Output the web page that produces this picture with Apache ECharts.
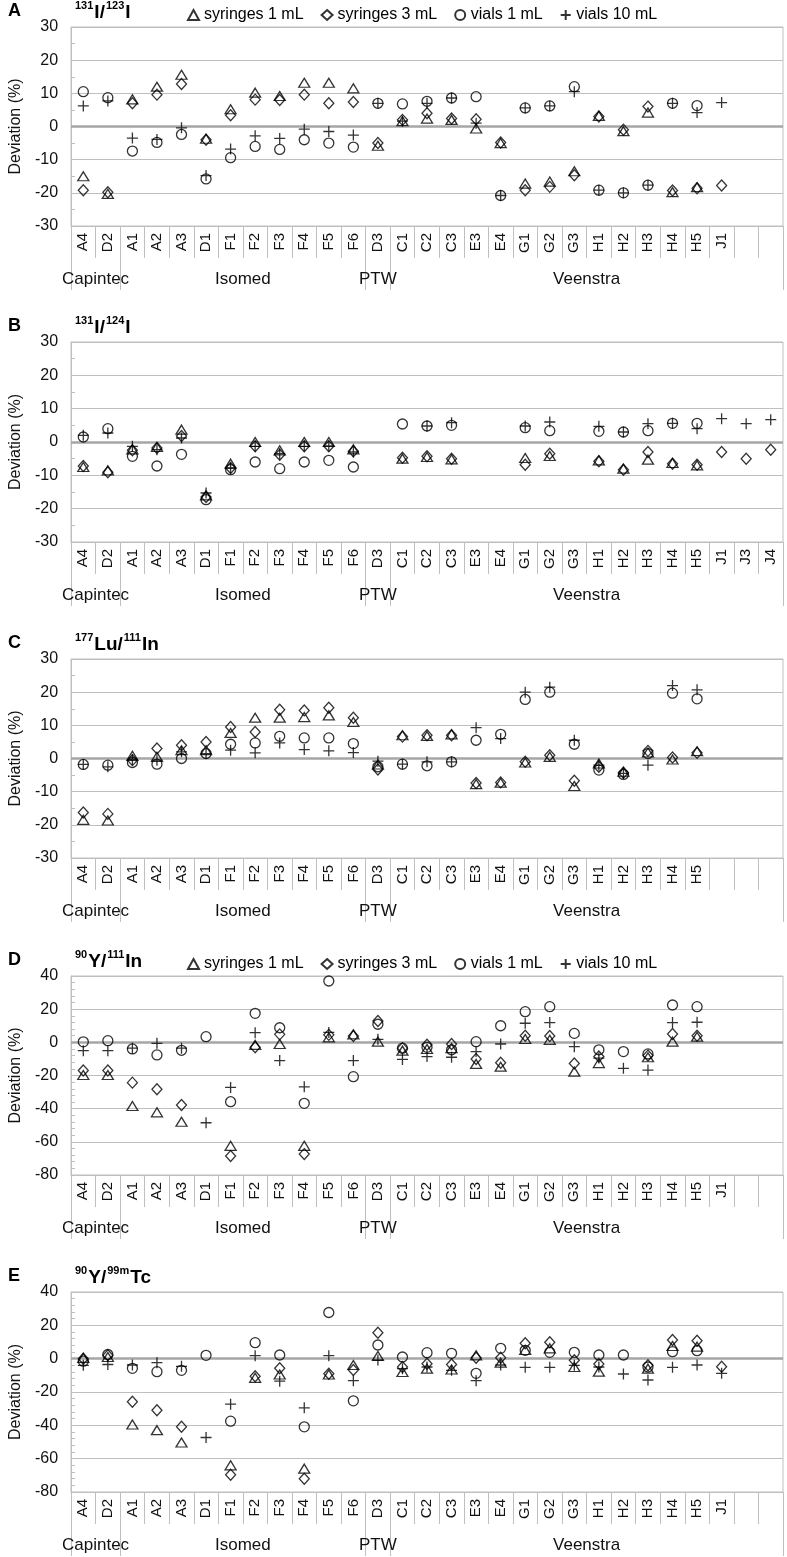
<!DOCTYPE html>
<html><head><meta charset="utf-8">
<script src="https://cdn.jsdelivr.net/npm/echarts@6/dist/echarts.min.js"></script>
<style>html,body{margin:0;padding:0;background:#fff}#c{width:787px;height:1557px}</style>
</head><body><div id="c"></div>
<script>
// ---------- categories ----------
const catsA = ['A4','D2','A1','A2','A3','D1','F1','F2','F3','F4','F5','F6','D3','C1','C2','C3','E3','E4','G1','G2','G3','H1','H2','H3','H4','H5','J1',' ','  '];
const catsB = ['A4','D2','A1','A2','A3','D1','F1','F2','F3','F4','F5','F6','D3','C1','C2','C3','E3','E4','G1','G2','G3','H1','H2','H3','H4','H5','J1','J3','J4'];
const catsC = ['A4','D2','A1','A2','A3','D1','F1','F2','F3','F4','F5','F6','D3','C1','C2','C3','E3','E4','G1','G2','G3','H1','H2','H3','H4','H5',' ','  ','   '];
const catsD = ['A4','D2','A1','A2','A3','D1','F1','F2','F3','F4','F5','F6','D3','C1','C2','C3','E3','E4','G1','G2','G3','H1','H2','H3','H4','H5','J1',' ','  '];
const catsE = ['A4','D2','A1','A2','A3','D1','F1','F2','F3','F4','F5','F6','D3','C1','C2','C3','E3','E4','G1','G2','G3','H1','H2','H3','H4','H5','J1',' ','  '];
const groupNames = ['Capintec','Isomed','PTW','Veenstra'];
const groupSizes = [2, 10, 1, 16];
const seriesNames = ['syringes 1 mL','syringes 3 mL','vials 1 mL','vials 10 mL'];
const panelLetters = ['A','B','C','D','E'];
const isotopes = [['131','I','123','I'],['131','I','124','I'],['177','Lu','111','In'],['90','Y','111','In'],['90','Y','99m','Tc']];
const yTicksSmall = [-30, 30, 10];
const yTicksLarge = [-80, 40, 20];

// ---------- values (deviation %) ----------
const syr1A  = [-15,-20.3,8.2,12,15.6,-3.7,5.2,10.2,9.2,13.2,13.2,11.5,-5.8,1.6,2.4,2.0,-0.6,-5.0,-17.2,-16.6,-13.5,3.2,-1.4,4.2,-19.8,-18.3,null,null,null];
const syr3A  = [-19.2,-19.8,7.0,9.6,12.8,-4.0,3.4,8.1,8.0,9.6,7.0,7.4,-5.0,2.0,4.0,2.4,2.2,-4.8,-19.2,-18.2,-14.7,3.0,-1.0,6.0,-19.3,-18.6,-17.8,null,null];
const vial1A = [10.5,8.7,-7.4,-4.8,-2.4,-15.8,-9.4,-6.0,-6.9,-4.0,-5.0,-6.2,7.0,6.8,7.6,8.6,9.0,-20.8,5.6,6.2,12.0,-19.2,-20.0,-17.7,7.0,6.3,null,null,null];
const vial10A= [6.2,7.7,-3.5,-3.9,-0.4,-14.8,-6.8,-2.8,-3.6,-0.8,-1.5,-2.6,7.0,1.6,7.0,8.6,1.0,-20.8,5.6,6.2,10.5,-19.2,-20.0,-17.7,7.0,4.2,7.2,null,null];

const syr1B  = [-7.5,-8.5,-2.2,-1.5,3.7,-16,-6.5,0.0,-2.5,0.0,0.0,-2.2,null,-5.0,-4.5,-5.2,null,null,-4.8,-4.2,null,-5.5,-8.0,-5.3,-6.3,-7.0,null,null,null];
const syr3B  = [-7.2,-9.1,-2.5,-1.8,1.8,-16.5,-7.8,-1.3,-3.8,-1.3,-1.3,-2.8,null,-4.7,-4.3,-5.0,null,null,-6.8,-3.5,null,-5.8,-8.3,-3.0,-6.5,-6.8,-3.0,-5.0,-2.3];
const vial1B = [1.5,4.0,-4.3,-7.2,-3.7,-17.3,-8.3,-6.0,-8.0,-6.0,-5.5,-7.5,null,5.4,4.8,5.0,null,null,4.3,3.4,null,3.2,3.0,3.4,5.6,5.6,null,null,null];
const vial10B= [2.0,2.7,-1.3,-2.3,1.2,-15.3,-7.8,-1.3,-3.5,-1.3,-1.2,-3.0,null,null,4.8,5.8,null,null,4.8,6.0,null,4.7,3.0,5.5,5.6,4.0,7.0,5.5,6.7];

const syr1C  = [-18.5,-18.7,0.8,0.5,2.5,2.5,7.7,12.3,12.3,12.5,13.0,11.0,-1.8,7.0,6.8,7.3,-7.7,-7.3,-1.2,0.5,-8.3,-1.5,-4.0,1.8,-0.3,2.2,null,null,null];
const syr3C  = [-16.3,-16.7,-0.5,3.0,4.0,5.0,9.5,8.0,14.7,14.5,15.3,12.3,-3.3,6.6,7.0,7.0,-7.4,-7.2,-1.0,1.0,-6.7,-2.5,-4.3,2.3,0.3,1.7,null,null,null];
const vial1C = [-1.8,-2.0,-1.2,-1.7,0.0,1.5,4.3,4.7,6.7,6.2,6.2,4.5,-2.5,-1.7,-2.2,-1.0,5.5,7.3,17.8,20.0,4.3,-3.5,-4.8,1.5,19.7,18.0,null,null,null];
const vial10C= [-1.8,-2.5,-0.3,-0.5,2.0,1.5,2.5,1.7,4.7,2.7,2.3,1.8,-0.8,-1.7,-1.0,-1.0,9.3,6.0,20.0,21.5,5.5,-2.0,-4.5,-2.0,22.0,20.7,null,null,null];

const syr1D  = [-19.7,-19.7,-38.4,-42.2,-47.9,null,-62.4,-1.5,-1.0,-62.4,3.0,4.8,0.4,-5.0,-4.0,-3.5,-13.0,-14.7,2.0,1.5,-17.7,-12.5,null,-9.0,0.4,3.4,null,null,null];
const syr3D  = [-17,-17,-24.3,-28.3,-37.8,null,-68.6,-3.0,4.8,-67.4,4.5,3.8,12.9,-3.5,-1.5,-1.0,-10,-12.3,4.0,3.8,-12.7,-8.5,null,-8.0,5.0,4.0,null,null,null];
const vial1D = [0.3,1.0,-4.0,-7.6,-4.8,3.4,-35.8,17.5,8.8,-36.8,37.0,-20.7,10.9,-3.5,-3.0,-4.5,0.4,10.0,18.5,21.5,5.4,-4.5,-5.6,-7.0,22.5,21.5,null,null,null];
const vial10D= [-5.0,-5.0,-3.5,-0.6,-3.5,-48.5,-27.2,5.8,-11.0,-26.8,6.0,-11.0,1.8,-10.3,-8.6,-9.0,-5.6,-1.0,11.5,11.9,-2.6,-9.5,-15.7,-16.7,11.9,12.1,null,null,null];

const syr1E  = [0.5,1.0,-39.5,-42.9,-50.3,null,-64.0,-11.5,-9.5,-66.0,-9.5,-3.8,1.6,-8.0,-6.0,-6.5,2.0,-2.4,5.2,6.2,-5.0,-7.8,null,-6.0,7.6,7.2,null,null,null];
const syr3E  = [0.0,2.0,-25.9,-30.9,-40.9,null,-69.6,-10.5,-5.8,-72.0,-9.0,-6.8,15.6,-5.0,-3.0,-3.5,0.5,0.6,9.2,9.8,-1.0,-3.2,null,-4.0,11.2,10.8,-4.8,null,null];
const vial1E = [-1.5,2.5,-5.8,-7.8,-7.0,2.0,-37.5,9.6,2.2,-40.9,27.7,-25.3,8.2,1.0,3.6,3.2,-8.8,6.2,5.0,3.8,3.8,2.2,2.2,-5.0,4.2,4.8,null,null,null];
const vial10E= [-4.0,-3.5,-3.8,-2.4,-4.6,-47.3,-27.3,1.8,-13.5,-29.5,1.8,-13.2,-0.8,-6.0,-5.0,-7.0,-13.2,-3.8,-5.2,-5.2,-4.0,-5.0,-9.2,-12.8,-5.2,-3.8,-8.8,null,null];

// ---------- build chart ----------
const FONT = "'Liberation Sans', Arial, sans-serif";
const panels = [
  {cats: catsA, data: [syr1A, syr3A, vial1A, vial10A], y: yTicksSmall, minorSplit: 2, top: 27, height: 199, legend: true},
  {cats: catsB, data: [syr1B, syr3B, vial1B, vial10B], y: yTicksSmall, minorSplit: 2, top: 342, height: 200, legend: false},
  {cats: catsC, data: [syr1C, syr3C, vial1C, vial10C], y: yTicksSmall, minorSplit: 2, top: 659, height: 199, legend: false},
  {cats: catsD, data: [syr1D, syr3D, vial1D, vial10D], y: yTicksLarge, minorSplit: 5, top: 976, height: 199, legend: true},
  {cats: catsE, data: [syr1E, syr3E, vial1E, vial10E], y: yTicksLarge, minorSplit: 5, top: 1292, height: 200, legend: false}
];
const symbolDefs = [
  {symbol: 'triangle', size: [11, 9]},
  {symbol: 'diamond', size: [10, 11]},
  {symbol: 'circle', size: 10},
  {symbol: 'path://M5,0L5,10M0,5L10,5', size: 11}
];
const groupBounds = [0];
const groupCenters = [];
groupSizes.forEach((s, i) => { groupCenters.push(groupBounds[i] + s / 2); groupBounds.push(groupBounds[i] + s); });
const centerName = {};
groupCenters.forEach((c, i) => centerName[c] = groupNames[i]);

const GRID_COLOR = '#bfbfbf';
const option = {animation: false, textStyle: {fontFamily: FONT}, title: [], legend: [], grid: [], xAxis: [], yAxis: [], series: []};

panels.forEach((p, i) => {
  const nCat = p.cats.length;
  option.grid.push({left: 67, right: 4, top: p.top, height: p.height, show: true, borderColor: GRID_COLOR, borderWidth: 1, containLabel: false});
  option.title.push({text: panelLetters[i], left: 3, top: p.top - 30, textStyle: {fontSize: 18, fontWeight: 'bold', color: '#000', fontFamily: FONT}});
  const iso = isotopes[i];
  option.title.push({
    text: '{s|' + iso[0] + '}{m|' + iso[1] + '/}{s|' + iso[2] + '}{m|' + iso[3] + '}',
    left: 70, top: p.top - 32,
    textStyle: {fontFamily: FONT, rich: {
      s: {fontSize: 11, lineHeight: 12, verticalAlign: 'top', color: '#000', fontFamily: FONT},
      m: {fontSize: 19, lineHeight: 22, verticalAlign: 'bottom', fontWeight: 'bold', color: '#000', fontFamily: FONT, padding: [0, 1, 0, 1]}
    }}
  });
  if (p.legend) {
    option.legend.push({
      left: 182, top: p.top - 25, itemWidth: 11, itemHeight: 10, itemGap: 17, selectedMode: false,
      textStyle: {fontSize: 16, color: '#000', fontFamily: FONT}, data: seriesNames
    });
  }
  option.xAxis.push({
    type: 'category', gridIndex: i, data: p.cats, position: 'bottom', boundaryGap: true,
    axisLine: {show: true, onZero: false, lineStyle: {color: GRID_COLOR}},
    axisTick: {show: true, interval: 0, length: 32, lineStyle: {color: GRID_COLOR}},
    axisLabel: {interval: 0, rotate: 90, margin: 7, fontSize: 15, color: '#111', fontFamily: FONT},
    splitLine: {show: false}
  });
  option.xAxis.push({
    type: 'value', gridIndex: i, position: 'bottom', min: 0, max: nCat,
    axisLine: {show: false, onZero: false},
    axisTick: {show: true, customValues: groupBounds, length: 64, lineStyle: {color: GRID_COLOR}},
    axisLabel: {show: true, customValues: groupCenters, margin: 45, fontSize: 17, color: '#111', fontFamily: FONT,
      formatter: v => centerName[v] || ''},
    splitLine: {show: false}
  });
  option.yAxis.push({
    type: 'value', gridIndex: i, min: p.y[0], max: p.y[1], interval: p.y[2],
    name: 'Deviation (%)', nameLocation: 'middle', nameRotate: 90, nameGap: 44,
    nameTextStyle: {fontSize: 16, color: '#111', fontFamily: FONT},
    axisLine: {show: true, lineStyle: {color: GRID_COLOR}},
    axisTick: {show: true, inside: true, length: 4, lineStyle: {color: GRID_COLOR}},
    minorTick: {show: true, splitNumber: p.minorSplit, length: 4, lineStyle: {color: GRID_COLOR}},
    axisLabel: {fontSize: 16, color: '#111', margin: 13, fontFamily: FONT},
    splitLine: {show: true, lineStyle: {color: GRID_COLOR, width: 1.2}}
  });
  p.data.forEach((arr, k) => {
    const s = {
      type: 'scatter', name: seriesNames[k], xAxisIndex: 2 * i, yAxisIndex: i,
      data: arr, symbol: symbolDefs[k].symbol, symbolSize: symbolDefs[k].size,
      itemStyle: {color: 'rgba(255,255,255,0)', borderColor: '#000', borderWidth: 1.3},
      emphasis: {disabled: true}, z: 3 + k
    };
    if (k === 0) {
      s.markLine = {silent: true, symbol: ['none', 'none'], label: {show: false},
        lineStyle: {color: '#a6a6a6', width: 2.5, type: 'solid'}, data: [{yAxis: 0}], z: 1};
    }
    option.series.push(s);
  });
});

const chart = echarts.init(document.getElementById('c'), null, {renderer: 'canvas'});
chart.setOption(option);
</script></body></html>
